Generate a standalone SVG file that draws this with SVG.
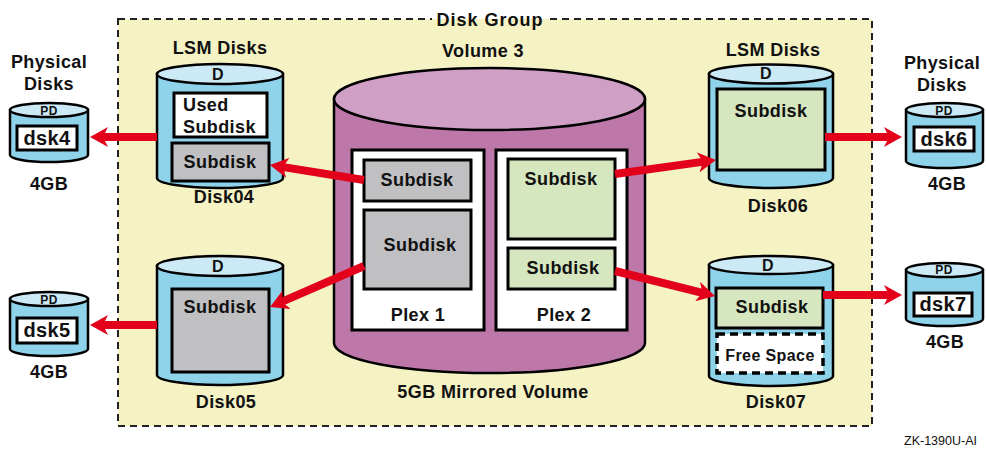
<svg xmlns="http://www.w3.org/2000/svg" width="986" height="449" viewBox="0 0 986 449">
<style>
text{font-family:"Liberation Sans",Arial,Helvetica,sans-serif;font-weight:bold;fill:#111;text-anchor:middle;letter-spacing:0.4px}
.t18{font-size:18px}
.t20{font-size:20px}
.t16{font-size:16px}
.t12{font-size:12px}
.cyl{fill:#8fd3eb;stroke:#000;stroke-width:2.5}
.cyltop{fill:#cceaf6;stroke:#000;stroke-width:2.5}
.vol{fill:#bd77a9;stroke:#000;stroke-width:2.5}
.voltop{fill:#cf9fc6;stroke:#000;stroke-width:2.5}
.box{stroke:#000;stroke-width:3}
.white{fill:#fff}
.gray{fill:#c0c0c2}
.green{fill:#d6e6bf}
.free{fill:#fff;stroke:#000;stroke-width:3.5;stroke-dasharray:8 5}
.conn{stroke:#e2001b;stroke-width:8;fill:none}
</style>
<defs>
<marker id="ah" viewBox="0 0 18 20" markerWidth="18" markerHeight="20" refX="6" refY="10" markerUnits="userSpaceOnUse" orient="auto">
<path d="M0,0 L18,10 L0,20 L5,10 z" fill="#e2001b"/>
</marker>
</defs>
<rect width="986" height="449" fill="#fff"/>
<g id="diskgroup">
<rect x="118" y="19" width="754" height="407" fill="#f5f2c4" stroke="#222" stroke-width="2" stroke-dasharray="7 5"/>
<rect x="432" y="9" width="116" height="10" fill="#fff"/>
<rect x="432" y="19" width="116" height="9" fill="#f5f2c4"/>
<text class="t18" x="490" y="25.5" style="letter-spacing:1px">Disk Group</text>
</g>
<g id="dsk4">
<text class="t18" x="49" y="68">Physical</text>
<text class="t18" x="49" y="90">Disks</text>
<path class="cyl" d="M10,110 L10,155 A39,7 0 0 0 88,155 L88,110 Z"/>
<ellipse class="cyltop" cx="49" cy="110" rx="39" ry="7"/>
<text class="t12" x="49" y="115">PD</text>
<rect class="box white" x="17" y="126" width="60" height="24"/>
<text class="t20" x="47" y="145">dsk4</text>
<text class="t18" x="49" y="190">4GB</text>
</g>
<g id="dsk5">
<path class="cyl" d="M10,299 L10,349 A39,7 0 0 0 88,349 L88,299 Z"/>
<ellipse class="cyltop" cx="49" cy="299" rx="39" ry="7"/>
<text class="t12" x="49" y="304">PD</text>
<rect class="box white" x="17" y="318" width="60" height="25"/>
<text class="t20" x="47" y="337">dsk5</text>
<text class="t18" x="49" y="378">4GB</text>
</g>
<g id="disk04">
<text class="t18" x="220" y="54">LSM Disks</text>
<path class="cyl" d="M157,74 L157,178 A63,10 0 0 0 283,178 L283,74 Z"/>
<ellipse class="cyltop" cx="220" cy="74" rx="63" ry="10"/>
<text class="t16" x="218" y="80">D</text>
<rect class="box white" x="174" y="93" width="93" height="44"/>
<text class="t18" x="183" y="111" style="text-anchor:start">Used</text>
<text class="t18" x="183" y="133" style="text-anchor:start">Subdisk</text>
<rect class="box gray" x="172" y="143" width="97" height="38"/>
<text class="t18" x="220" y="168">Subdisk</text>
<text class="t18" x="224" y="203">Disk04</text>
</g>
<g id="disk05">
<path class="cyl" d="M157,266 L157,375 A63,10 0 0 0 283,375 L283,266 Z"/>
<ellipse class="cyltop" cx="220" cy="266" rx="63" ry="10"/>
<text class="t16" x="218" y="272">D</text>
<rect class="box gray" x="172" y="289" width="97" height="83"/>
<text class="t18" x="220" y="313">Subdisk</text>
<text class="t18" x="226" y="408">Disk05</text>
</g>
<g id="volume3">
<text class="t18" x="483" y="57">Volume 3</text>
<path class="vol" d="M334,99 L334,343 A155.5,30 0 0 0 645,343 L645,99 Z"/>
<ellipse class="voltop" cx="489.5" cy="99" rx="155.5" ry="31"/>
<rect class="box white" x="352" y="150" width="132" height="180"/>
<rect class="box white" x="496" y="150" width="131" height="180"/>
<rect class="box gray" x="364" y="160" width="107" height="41"/>
<text class="t18" x="417" y="186">Subdisk</text>
<rect class="box gray" x="364" y="210" width="107" height="79"/>
<text class="t18" x="420" y="251">Subdisk</text>
<text class="t18" x="418" y="321">Plex 1</text>
<rect class="box green" x="508" y="159" width="107" height="80"/>
<text class="t18" x="561" y="185">Subdisk</text>
<rect class="box green" x="508" y="248" width="107" height="41"/>
<text class="t18" x="563" y="274">Subdisk</text>
<text class="t18" x="564" y="321">Plex 2</text>
<text class="t18" x="493" y="398">5GB Mirrored Volume</text>
</g>
<g id="disk06">
<text class="t18" x="773" y="56">LSM Disks</text>
<path class="cyl" d="M709,74 L709,178 A62,10 0 0 0 833,178 L833,74 Z"/>
<ellipse class="cyltop" cx="771" cy="74" rx="62" ry="9.5"/>
<text class="t16" x="766" y="79">D</text>
<rect class="box green" x="717" y="89" width="108" height="81"/>
<text class="t18" x="771" y="117">Subdisk</text>
<text class="t18" x="778" y="212">Disk06</text>
</g>
<g id="disk07">
<path class="cyl" d="M709,265 L709,376 A62,10 0 0 0 833,376 L833,265 Z"/>
<ellipse class="cyltop" cx="771" cy="265" rx="62" ry="9"/>
<text class="t16" x="768" y="271">D</text>
<rect class="box green" x="716" y="288" width="107" height="40"/>
<text class="t18" x="772" y="313">Subdisk</text>
<rect class="free" x="717" y="334" width="106" height="39"/>
<text class="t16" x="770" y="361">Free Space</text>
<text class="t18" x="776" y="408">Disk07</text>
</g>
<g id="dsk6">
<text class="t18" x="942" y="69">Physical</text>
<text class="t18" x="942" y="91">Disks</text>
<path class="cyl" d="M906,110 L906,161 A38.5,7 0 0 0 983,161 L983,110 Z"/>
<ellipse class="cyltop" cx="944.5" cy="110" rx="38.5" ry="7"/>
<text class="t12" x="944" y="115">PD</text>
<rect class="box white" x="914" y="127" width="60" height="24"/>
<text class="t20" x="944" y="146">dsk6</text>
<text class="t18" x="947" y="190">4GB</text>
</g>
<g id="dsk7">
<path class="cyl" d="M906,270 L906,319 A38.5,7 0 0 0 983,319 L983,270 Z"/>
<ellipse class="cyltop" cx="944.5" cy="270" rx="38.5" ry="7"/>
<text class="t12" x="944" y="274">PD</text>
<rect class="box white" x="914" y="293" width="58" height="23"/>
<text class="t20" x="943" y="311">dsk7</text>
<text class="t18" x="945" y="348">4GB</text>
</g>
<g id="connectors">
<line class="conn" x1="157" y1="137" x2="102" y2="137" marker-end="url(#ah)"/>
<line class="conn" x1="157" y1="325" x2="102" y2="325" marker-end="url(#ah)"/>
<line class="conn" x1="364" y1="180" x2="281.8" y2="166.9" marker-end="url(#ah)"/>
<line class="conn" x1="364" y1="266" x2="281" y2="302.2" marker-end="url(#ah)"/>
<line class="conn" x1="615" y1="174" x2="704.1" y2="161.6" marker-end="url(#ah)"/>
<line class="conn" x1="615" y1="271" x2="703.4" y2="293.1" marker-end="url(#ah)"/>
<line class="conn" x1="825" y1="137" x2="890" y2="137" marker-end="url(#ah)"/>
<line class="conn" x1="823" y1="295" x2="890" y2="295" marker-end="url(#ah)"/>
</g>
<text x="904" y="445" style="font-size:12.5px;font-weight:normal;text-anchor:start;letter-spacing:0">ZK-1390U-AI</text>
</svg>
